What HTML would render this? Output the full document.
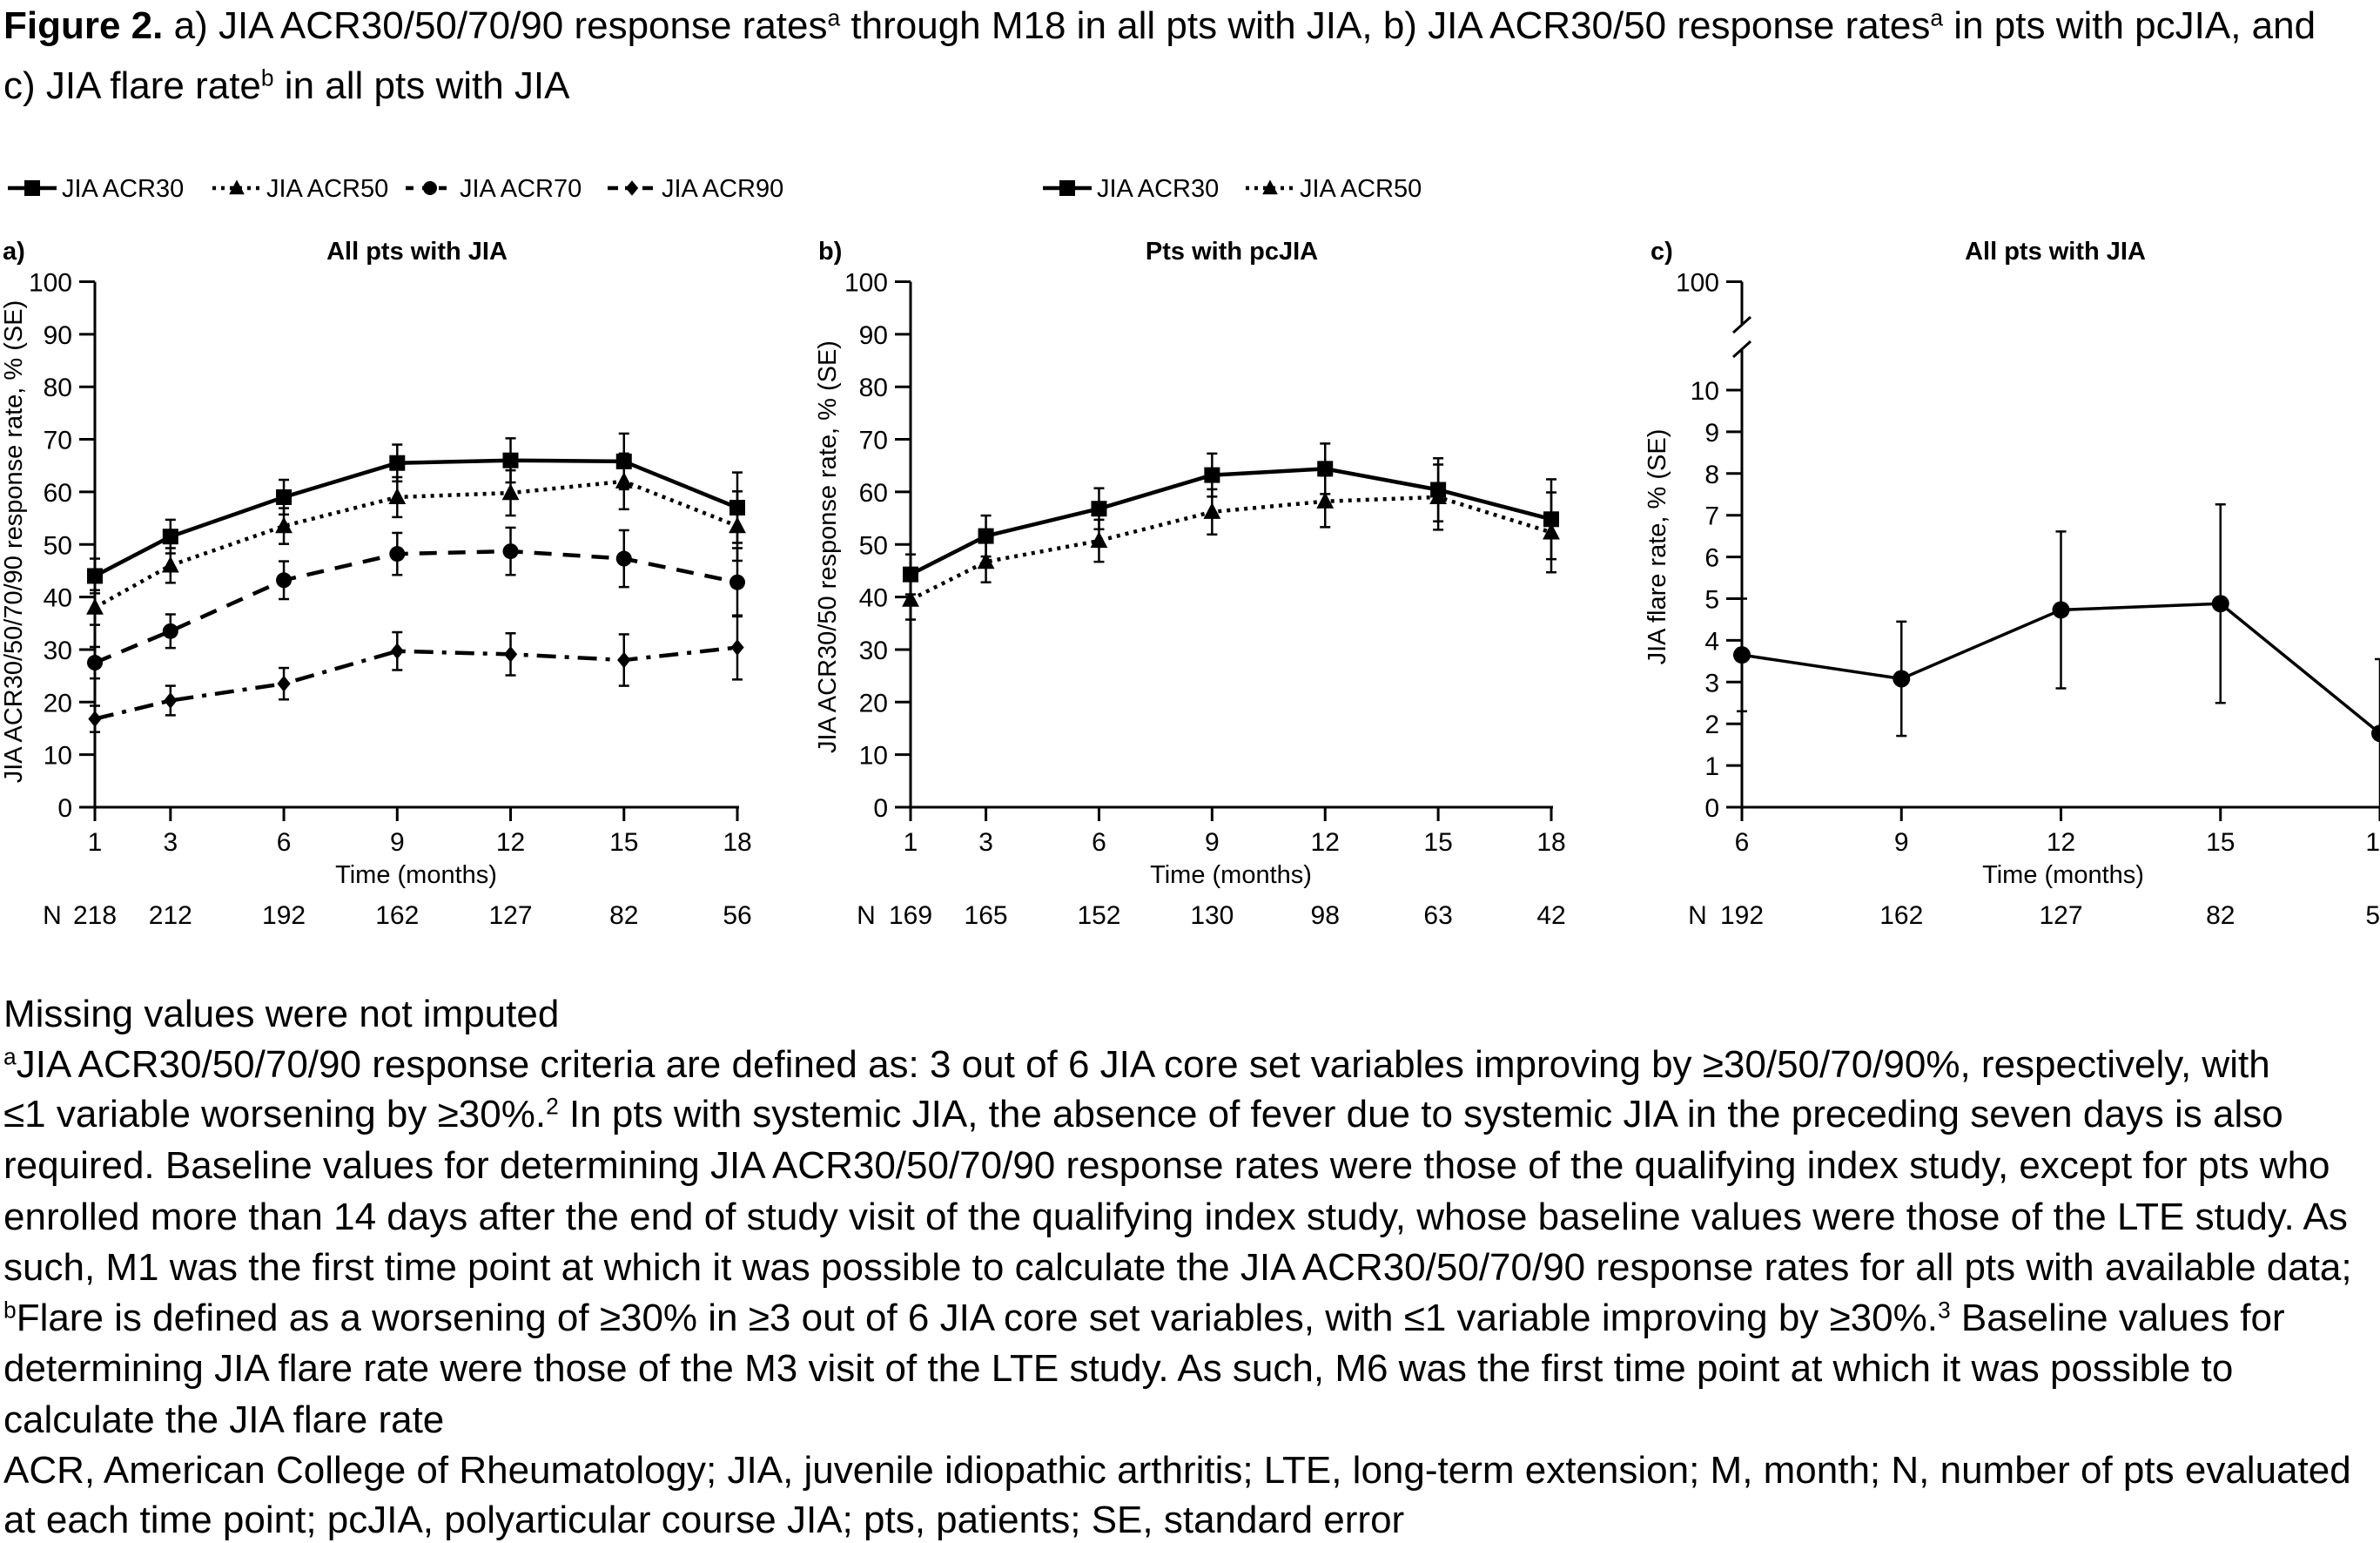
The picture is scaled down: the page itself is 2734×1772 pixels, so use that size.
<!DOCTYPE html>
<html><head><meta charset="utf-8">
<style>
html,body{margin:0;padding:0;background:#fff;}
#page{position:relative;width:2734px;height:1772px;overflow:hidden;font-family:"Liberation Sans",Arial,sans-serif;color:#000;}
.ln{position:absolute;left:4px;white-space:nowrap;font-size:44px;line-height:58px;}
.ttl{position:absolute;left:4px;white-space:nowrap;font-size:44px;line-height:60px;}
sup{font-size:0.6em;vertical-align:0.55em;line-height:0;}
svg{position:absolute;left:0;top:0;}
</style></head>
<body>
<div id="page">
<div class="ttl" style="top:0px"><b>Figure 2.</b> a) JIA ACR30/50/70/90 response rates<sup>a</sup> through M18 in all pts with JIA, b) JIA ACR30/50 response rates<sup>a</sup> in pts with pcJIA, and</div>
<div class="ttl" style="top:69px">c) JIA flare rate<sup>b</sup> in all pts with JIA</div>

<svg id="chart" width="2734" height="1772"></svg>

<div class="ln" style="top:1136px">Missing values were not imputed</div>
<div class="ln" style="top:1194px"><sup>a</sup>JIA ACR30/50/70/90 response criteria are defined as: 3 out of 6 JIA core set variables improving by ≥30/50/70/90%, respectively, with</div>
<div class="ln" style="top:1251px">≤1 variable worsening by ≥30%.<sup>2</sup> In pts with systemic JIA, the absence of fever due to systemic JIA in the preceding seven days is also</div>
<div class="ln" style="top:1310px">required. Baseline values for determining JIA ACR30/50/70/90 response rates were those of the qualifying index study, except for pts who</div>
<div class="ln" style="top:1369px">enrolled more than 14 days after the end of study visit of the qualifying index study, whose baseline values were those of the LTE study. As</div>
<div class="ln" style="top:1427px">such, M1 was the first time point at which it was possible to calculate the JIA ACR30/50/70/90 response rates for all pts with available data;</div>
<div class="ln" style="top:1485px"><sup>b</sup>Flare is defined as a worsening of ≥30% in ≥3 out of 6 JIA core set variables, with ≤1 variable improving by ≥30%.<sup>3</sup> Baseline values for</div>
<div class="ln" style="top:1543px">determining JIA flare rate were those of the M3 visit of the LTE study. As such, M6 was the first time point at which it was possible to</div>
<div class="ln" style="top:1602px">calculate the JIA flare rate</div>
<div class="ln" style="top:1660px">ACR, American College of Rheumatology; JIA, juvenile idiopathic arthritis; LTE, long-term extension; M, month; N, number of pts evaluated</div>
<div class="ln" style="top:1717px">at each time point; pcJIA, polyarticular course JIA; pts, patients; SE, standard error</div>
</div>

<script>
// ---- data ----
const monthsAB = [1, 3, 6, 9, 12, 15, 18];
const nA = [218, 212, 192, 162, 127, 82, 56];
const nB = [169, 165, 152, 130, 98, 63, 42];
const aAcr30 = [44, 51.5, 59, 65.5, 66, 65.8, 57];
const aAcr30Se = [3.3, 3.2, 3.3, 3.5, 4.2, 5.3, 6.7];
const aAcr50 = [38, 46, 53.5, 59, 59.8, 62, 53.5];
const aAcr50Se = [3.3, 3.3, 3.4, 3.8, 4.3, 5.3, 6.6];
const aAcr70 = [27.5, 33.5, 43.2, 48.2, 48.7, 47.3, 42.8];
const aAcr70Se = [3.0, 3.2, 3.6, 4.0, 4.5, 5.4, 6.5];
const aAcr90 = [16.8, 20.3, 23.5, 29.7, 29.1, 28, 30.4];
const aAcr90Se = [2.5, 2.8, 3.0, 3.6, 4.0, 4.9, 6.1];
const bAcr30 = [44.3, 51.6, 56.8, 63.2, 64.4, 60.4, 54.8];
const bAcr30Se = [3.8, 3.9, 3.9, 4.1, 4.8, 6.0, 7.6];
const bAcr50 = [39.5, 46.7, 50.7, 56.2, 58.2, 59, 52.3];
const bAcr50Se = [3.8, 3.9, 4.0, 4.3, 4.9, 6.2, 7.6];
const monthsC = [6, 9, 12, 15, 18];
const nC = [192, 162, 127, 82, 56];
const flare = [3.65, 3.08, 4.73, 4.88, 1.77];
const flareSe = [1.35, 1.37, 1.88, 2.38, 1.78];
const yTicksAB = [0, 10, 20, 30, 40, 50, 60, 70, 80, 90, 100];
const yTicksC = [0, 1, 2, 3, 4, 5, 6, 7, 8, 9, 10];

const NS = "http://www.w3.org/2000/svg";
const svg = document.getElementById('chart');
function mk(tag, attrs, parent, text) {
  const e = document.createElementNS(NS, tag);
  for (const k in attrs) e.setAttribute(k, attrs[k]);
  if (text !== undefined) e.textContent = text;
  (parent || svg).appendChild(e);
  return e;
}
const FONT = '"Liberation Sans", Arial, sans-serif';
const FS = 30;

function marker(g, shape, x, y, size) {
  let m;
  if (shape === 'square') m = mk('rect', {x: x - size/2, y: y - size/2, width: size, height: size, fill: '#000'}, g);
  else if (shape === 'triangle') m = mk('polygon', {points: `${x},${y - size*0.6} ${x - size*0.55},${y + size*0.45} ${x + size*0.55},${y + size*0.45}`, fill: '#000'}, g);
  else if (shape === 'circle') m = mk('circle', {cx: x, cy: y, r: size/2, fill: '#000'}, g);
  else m = mk('polygon', {points: `${x},${y - size*0.55} ${x + size*0.45},${y} ${x},${y + size*0.55} ${x - size*0.45},${y}`, fill: '#000'}, g);
  return m;
}

function drawAxes(cfg) {
  const g = mk('g', {});
  
  
  if (cfg.breakAxis) {
    const ya = mk('path', {d: `M${cfg.x0},${cfg.yTop} V372 M${cfg.x0},402 V${cfg.y0}`, stroke: '#000', 'stroke-width': 3, fill: 'none'}, g);
    
    
    const br = mk('path', {d: `M${cfg.x0-10},382 L${cfg.x0+10},364 M${cfg.x0-10},410 L${cfg.x0+10},392`, stroke: '#000', 'stroke-width': 3, fill: 'none'}, g);
    
    
    mk('line', {x1: cfg.x0 - 18, x2: cfg.x0, y1: cfg.yTop, y2: cfg.yTop, stroke: '#000', 'stroke-width': 3}, g);
    const t100 = mk('text', {x: cfg.x0 - 26, y: cfg.yTop + 11, 'text-anchor': 'end', 'font-size': FS, 'font-family': FONT}, g, '100');
    
    
  } else {
    const ya = mk('line', {x1: cfg.x0, x2: cfg.x0, y1: cfg.yTop, y2: cfg.y0, stroke: '#000', 'stroke-width': 3}, g);
    
    
  }
  const xa = mk('line', {x1: cfg.x0, x2: cfg.x1 + 2, y1: cfg.y0, y2: cfg.y0, stroke: '#000', 'stroke-width': 3}, g);
  
  
  cfg.yTicks.forEach(v => {
    const y = cfg.sy(v);
    mk('line', {x1: cfg.x0 - 18, x2: cfg.x0, y1: y, y2: y, stroke: '#000', 'stroke-width': 3}, g);
    const t = mk('text', {x: cfg.x0 - 26, y: y + 11, 'text-anchor': 'end', 'font-size': FS, 'font-family': FONT}, g, String(v));
    
    
  });
  cfg.months.forEach((m, i) => {
    const x = cfg.sx(m);
    mk('line', {x1: x, x2: x, y1: cfg.y0, y2: cfg.y0 + 16, stroke: '#000', 'stroke-width': 3}, g);
    const t = mk('text', {x: x, y: 977, 'text-anchor': 'middle', 'font-size': FS, 'font-family': FONT}, g, String(m));
    
    
    const n = mk('text', {x: x, y: 1061, 'text-anchor': 'middle', 'font-size': FS, 'font-family': FONT}, g, String(cfg.n[i]));
    
    
  });
  const nl = mk('text', {x: cfg.nX, y: 1061, 'text-anchor': 'middle', 'font-size': FS, 'font-family': FONT}, g, 'N');
  
  
  const xt = mk('text', {x: cfg.xTitleX, y: 1014, 'text-anchor': 'middle', 'font-size': 29, 'font-family': FONT}, g, 'Time (months)');
  
  
  const yt = mk('text', {x: 0, y: 0, 'text-anchor': 'middle', 'font-size': 29, 'font-family': FONT, transform: `translate(${cfg.yTitleX},${cfg.yTitleY}) rotate(-90)`}, g, cfg.yTitle);
  
  
  const tt = mk('text', {x: cfg.titleX, y: 298, 'text-anchor': 'middle', 'font-size': 29, 'font-weight': 'bold', 'font-family': FONT}, g, cfg.title);
  
  
  const pl = mk('text', {x: cfg.labelX, y: 298, 'font-size': 29, 'font-weight': 'bold', 'font-family': FONT}, g, cfg.label);
  
  
}

function drawSeries(cfg, name, months, vals, se, style) {
  const g = mk('g', {});
  
  
  vals.forEach((v, i) => {
    const x = cfg.sx(months[i]);
    const lo = Math.max(0, v - se[i]);
    mk('line', {x1: x, x2: x, y1: cfg.sy(v + se[i]), y2: cfg.sy(lo), stroke: '#000', 'stroke-width': 2.5}, g);
    mk('line', {x1: x - 6, x2: x + 6, y1: cfg.sy(v + se[i]), y2: cfg.sy(v + se[i]), stroke: '#000', 'stroke-width': 2.5}, g);
    mk('line', {x1: x - 6, x2: x + 6, y1: cfg.sy(lo), y2: cfg.sy(lo), stroke: '#000', 'stroke-width': 2.5}, g);
  });
  const pts = vals.map((v, i) => cfg.sx(months[i]) + ',' + cfg.sy(v)).join(' ');
  const pl = mk('polyline', {points: pts, fill: 'none', stroke: '#000', 'stroke-width': style.w, 'stroke-dasharray': style.dash || 'none', 'stroke-linejoin': 'round'}, g);
  
  
  vals.forEach((v, i) => {
    const m = marker(g, style.shape, cfg.sx(months[i]), cfg.sy(v), style.size);
    
    
  });
}

function legend(x, y, shape, dash, w, label, name) {
  const g = mk('g', {});
  
  
  mk('line', {x1: x, x2: x + 56, y1: y, y2: y, stroke: '#000', 'stroke-width': w, 'stroke-dasharray': dash || 'none'}, g);
  marker(g, shape, x + 28, y, shape === 'square' ? 18 : 16);
  mk('text', {x: x + 62, y: y + 10, 'font-size': 29, 'font-family': FONT}, g, label);
}

const STY = {
  acr30: {shape: 'square', w: 4.5, size: 18},
  acr50: {shape: 'triangle', w: 4.5, dash: '4 6', size: 18},
  acr70: {shape: 'circle', w: 4.5, dash: '20 13', size: 18},
  acr90: {shape: 'diamond', w: 4.5, dash: '22 10 5 10', size: 17}
};

const A = {name: 'panel-a', x0: 109, x1: 847, y0: 927, yTop: 323.5, months: monthsAB, n: nA, yTicks: yTicksAB,
  nX: 60, xTitleX: 478, yTitleX: 25, yTitleY: 622, titleX: 479, labelX: 3, label: 'a)', title: 'All pts with JIA',
  yTitle: 'JIA ACR30/50/70/90 response rate, % (SE)'};
A.sx = m => A.x0 + (m - 1) / 17 * (A.x1 - A.x0);
A.sy = v => A.y0 - v / 100 * (A.y0 - A.yTop);
drawAxes(A);
drawSeries(A, 'a-acr90-series', monthsAB, aAcr90, aAcr90Se, STY.acr90);
drawSeries(A, 'a-acr70-series', monthsAB, aAcr70, aAcr70Se, STY.acr70);
drawSeries(A, 'a-acr50-series', monthsAB, aAcr50, aAcr50Se, STY.acr50);
drawSeries(A, 'a-acr30-series', monthsAB, aAcr30, aAcr30Se, STY.acr30);

const B = {name: 'panel-b', x0: 1046, x1: 1782, y0: 927, yTop: 323.5, months: monthsAB, n: nB, yTicks: yTicksAB,
  nX: 995, xTitleX: 1414, yTitleX: 960, yTitleY: 628, titleX: 1415, labelX: 940, label: 'b)', title: 'Pts with pcJIA',
  yTitle: 'JIA ACR30/50 response rate, % (SE)'};
B.sx = m => B.x0 + (m - 1) / 17 * (B.x1 - B.x0);
B.sy = v => B.y0 - v / 100 * (B.y0 - B.yTop);
drawAxes(B);
drawSeries(B, 'b-acr50-series', monthsAB, bAcr50, bAcr50Se, STY.acr50);
drawSeries(B, 'b-acr30-series', monthsAB, bAcr30, bAcr30Se, STY.acr30);

const C = {name: 'panel-c', x0: 2001, x1: 2734, y0: 927, yTop: 323.5, months: monthsC, n: nC, yTicks: yTicksC, breakAxis: true,
  nX: 1950, xTitleX: 2370, yTitleX: 1913, yTitleY: 628, titleX: 2361, labelX: 1896, label: 'c)', title: 'All pts with JIA',
  yTitle: 'JIA flare rate, % (SE)'};
C.sx = m => C.x0 + (m - 6) / 12 * (C.x1 - C.x0);
C.sy = v => C.y0 - v / 10 * (C.y0 - 448);
drawAxes(C);
drawSeries(C, 'c-flare-series', monthsC, flare, flareSe, {shape: 'circle', w: 3.5, size: 20});

legend(9, 216, 'square', null, 4.5, 'JIA ACR30', 'legend-a-acr30');
legend(244, 216, 'triangle', '4 6', 4.5, 'JIA ACR50', 'legend-a-acr50');
legend(466, 216, 'circle', '9 10', 4.5, 'JIA ACR70', 'legend-a-acr70');
legend(698, 216, 'diamond', '12 8', 4.5, 'JIA ACR90', 'legend-a-acr90');
legend(1198, 216, 'square', null, 4.5, 'JIA ACR30', 'legend-b-acr30');
legend(1431, 216, 'triangle', '4 6', 4.5, 'JIA ACR50', 'legend-b-acr50');
</script>
</body></html>
